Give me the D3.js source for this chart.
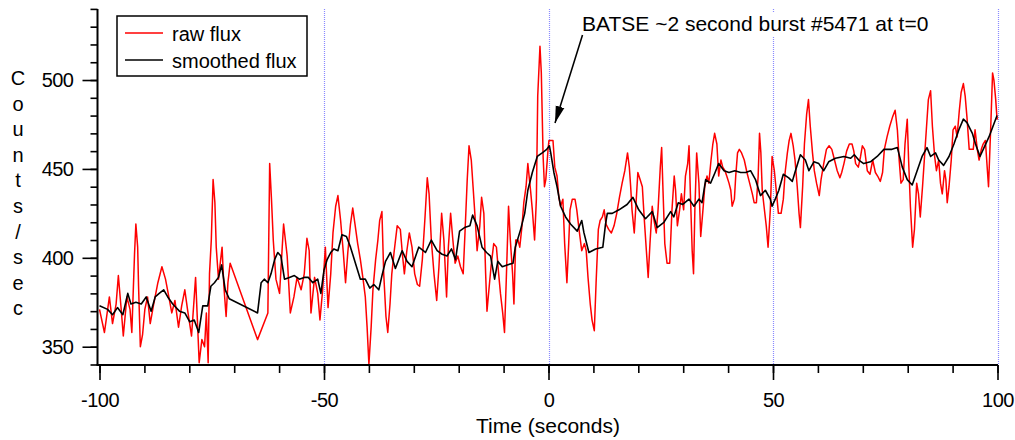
<!DOCTYPE html>
<html>
<head>
<meta charset="utf-8">
<script src="https://cdn.jsdelivr.net/npm/d3@7/dist/d3.min.js"></script>
<style>
  body { margin: 0; background: #fff; }
  svg text { font-family: "Liberation Sans", Arial, sans-serif; fill: #000; }
</style>
</head>
<body>
<svg id="mysvg" width="1015" height="440"></svg>
<script>
// [time (s), counts/sec]
const rawFlux = [
  [-100.0,371],[-98.9,358],[-97.8,378],[-97.1,363],[-96.3,374],[-95.8,390],[-95.1,369],[-94.7,356],[-93.9,378],[-93.2,371],
  [-92.8,358],[-92.2,402],[-91.9,419],[-91.5,406],[-91.3,384],[-90.9,350],[-90.4,357],[-89.9,371],[-89.3,378],[-88.7,363],
  [-88.0,373],[-87.0,386],[-86.1,395],[-85.3,388],[-84.7,380],[-83.9,369],[-83.2,376],[-82.4,361],[-81.7,373],[-81.0,382],
  [-80.4,371],[-79.8,361],[-79.5,356],[-78.9,378],[-78.6,389],[-78.2,365],[-77.8,341],[-77.2,354],[-76.6,350],[-76.2,369],
  [-75.8,341],[-75.5,391],[-75.1,410],[-74.7,444],[-74.3,431],[-74.0,406],[-73.5,388],[-73.2,395],[-72.7,406],[-72.3,384],
  [-71.8,367],[-71.4,386],[-70.9,397],[-64.8,354],[-62.5,369],[-62.1,453],[-61.7,433],[-61.3,410],[-60.7,388],[-59.9,380],
  [-59.0,419],[-58.2,401],[-57.5,369],[-56.7,378],[-56.0,389],[-55.1,382],[-54.4,391],[-53.8,411],[-53.3,404],[-52.9,369],
  [-52.1,389],[-51.4,380],[-50.9,365],[-50.3,382],[-49.7,406],[-49.1,372],[-48.5,391],[-48.0,414],[-47.4,429],[-46.9,435],
  [-46.3,421],[-45.7,403],[-45.2,386],[-44.7,403],[-44.1,419],[-43.6,428],[-43.1,419],[-42.5,408],[-41.9,399],[-41.3,388],
  [-40.8,378],[-40.4,361],[-40.0,340],[-39.5,361],[-39.1,382],[-38.5,399],[-38.0,410],[-37.6,421],[-37.1,426],[-36.7,391],
  [-36.2,367],[-35.8,358],[-35.3,374],[-34.9,391],[-34.4,403],[-33.7,418],[-33.0,416],[-32.5,401],[-32.1,391],[-31.6,403],
  [-31.0,414],[-30.4,406],[-29.8,391],[-29.2,385],[-28.7,384],[-28.1,399],[-27.5,423],[-27.0,445],[-26.6,436],[-26.1,410],
  [-25.5,391],[-24.9,376],[-24.4,395],[-23.8,425],[-23.3,410],[-22.7,378],[-22.3,406],[-21.8,425],[-21.3,410],[-20.8,397],
  [-20.2,401],[-19.6,395],[-19.0,391],[-18.6,414],[-18.1,444],[-17.7,463],[-17.2,455],[-16.8,440],[-16.3,421],[-15.9,404],
  [-15.3,418],[-14.9,434],[-14.4,425],[-14.0,391],[-13.7,370],[-13.2,384],[-12.8,395],[-12.2,408],[-11.6,406],[-11.1,391],
  [-10.7,380],[-10.2,369],[-9.8,358],[-9.4,388],[-8.9,429],[-8.5,410],[-8.0,391],[-7.7,374],[-7.3,410],[-6.8,410],
  [-6.4,406],[-5.9,418],[-5.5,431],[-5.0,440],[-4.6,453],[-4.0,438],[-3.6,427],[-3.1,410],[-2.7,433],[-2.4,491],
  [-1.9,519],[-1.6,504],[-1.2,457],[-0.9,440],[-0.6,444],[-0.1,461],[0.1,466],[1.0,466],[1.4,451],[1.9,446],
  [2.3,434],[2.7,429],[3.2,433],[3.6,408],[4.1,386],[4.5,408],[4.8,427],[5.3,433],[5.9,433],[6.3,427],
  [6.8,416],[7.4,404],[8.0,408],[8.4,404],[8.8,389],[9.3,374],[9.7,365],[10.2,359],[10.6,386],[11.1,416],
  [11.5,421],[12.0,423],[12.4,427],[12.8,419],[13.4,416],[14.0,414],[14.6,418],[15.2,425],[15.8,434],[16.4,442],
  [17.0,449],[17.6,459],[18.0,451],[18.3,440],[18.6,427],[19.1,414],[19.5,431],[19.9,448],[20.4,444],[20.9,440],
  [21.3,423],[21.8,404],[22.2,389],[22.6,408],[23.1,429],[23.5,421],[24.0,414],[24.4,427],[24.9,451],[25.2,462],
  [25.5,438],[25.9,408],[26.4,397],[27.0,397],[27.5,427],[28.0,446],[28.3,438],[28.7,418],[29.2,427],[29.6,436],
  [30.1,427],[30.5,446],[31.0,453],[31.3,463],[31.6,436],[32.0,404],[32.3,391],[32.6,427],[33.0,459],[33.5,442],
  [33.9,412],[34.4,427],[34.8,440],[35.3,446],[35.7,442],[36.2,455],[36.6,464],[37.0,470],[37.5,464],[37.9,446],
  [38.4,455],[38.8,451],[39.3,449],[39.7,446],[40.2,442],[40.6,438],[40.9,429],[41.4,433],[41.7,446],[42.1,459],
  [42.5,461],[43.0,459],[43.6,455],[44.2,448],[44.8,442],[45.4,436],[45.8,431],[46.3,431],[46.7,446],[47.0,470],
  [47.3,459],[47.6,438],[48.0,429],[48.5,418],[48.9,406],[49.4,427],[49.8,457],[50.3,449],[50.8,436],[51.2,425],
  [51.8,425],[52.3,433],[52.7,448],[53.2,459],[53.6,466],[54.0,470],[54.5,463],[54.9,455],[55.4,440],[55.8,425],
  [56.1,417],[56.6,440],[57.0,464],[57.5,481],[57.9,489],[58.3,474],[58.8,459],[59.2,449],[59.7,442],[60.3,435],
  [60.7,444],[61.3,453],[61.9,461],[62.5,463],[63.1,461],[63.7,455],[64.3,449],[64.9,445],[65.3,448],[65.8,453],
  [66.4,460],[67.0,464],[67.6,464],[68.0,460],[68.4,453],[69.0,451],[69.5,457],[69.9,463],[70.4,461],[71.0,449],
  [71.6,447],[72.2,455],[72.8,448],[73.3,446],[73.9,443],[74.4,448],[74.8,461],[75.4,468],[76.0,474],[76.6,479],
  [77.2,483],[77.7,472],[78.1,455],[78.5,442],[79.0,444],[79.4,464],[79.9,478],[80.2,455],[80.6,429],[81.1,406],
  [81.5,416],[82.0,442],[82.4,436],[82.8,423],[83.3,440],[83.7,455],[84.2,474],[84.6,489],[85.1,494],[85.5,474],
  [86.0,457],[86.4,449],[86.9,455],[87.3,442],[87.7,436],[88.2,449],[88.5,444],[88.8,431],[89.2,440],[89.7,455],
  [90.1,472],[90.6,474],[91.0,468],[91.5,483],[91.9,493],[92.4,498],[92.8,491],[93.2,479],[93.7,461],[94.1,461],
  [94.6,461],[95.0,472],[95.5,461],[95.9,455],[96.4,461],[96.8,464],[97.3,466],[97.7,451],[98.0,440],[98.5,474],
  [98.9,504],[99.2,500],[99.6,489],[99.9,478],[100.0,479]
];

const smoothedFlux = [
  [-100.0,373],[-98.2,371],[-97.1,368],[-96.0,372],[-94.8,368],[-93.7,380],[-93.0,374],[-91.9,375],[-90.7,374],[-89.6,378],
  [-88.5,370],[-87.6,378],[-86.7,380],[-85.7,382],[-84.8,378],[-83.7,374],[-82.2,370],[-81.0,369],[-79.9,364],[-78.9,365],
  [-77.9,358],[-77.0,373],[-75.9,373],[-75.2,384],[-74.4,386],[-73.5,389],[-72.8,396],[-72.0,382],[-71.1,377],[-64.8,369],
  [-64.0,386],[-63.3,388],[-62.5,386],[-61.8,391],[-61.0,399],[-60.3,403],[-59.6,401],[-58.8,388],[-57.7,389],[-56.6,390],
  [-55.5,388],[-54.4,389],[-53.5,389],[-52.5,386],[-51.4,388],[-50.7,380],[-50.0,393],[-49.3,399],[-48.5,403],[-47.8,405],
  [-46.9,404],[-46.0,413],[-45.0,412],[-44.1,406],[-43.0,397],[-41.9,388],[-40.8,388],[-39.8,383],[-38.9,385],[-37.8,382],
  [-37.0,391],[-36.3,398],[-35.2,403],[-34.1,394],[-32.6,404],[-31.5,398],[-30.4,395],[-28.9,406],[-27.4,403],[-26.1,410],
  [-24.8,404],[-23.7,402],[-22.6,401],[-21.6,405],[-20.7,399],[-19.8,415],[-18.7,417],[-17.5,418],[-16.9,424],[-15.9,418],
  [-14.8,406],[-13.8,403],[-12.9,401],[-12.0,388],[-11.3,398],[-10.3,395],[-9.2,396],[-7.9,397],[-7.4,406],[-6.2,416],
  [-5.3,425],[-4.6,438],[-3.6,448],[-2.5,457],[-1.4,459],[-0.4,461],[0.2,463],[0.5,459],[1.2,448],[1.9,440],
  [2.7,429],[3.8,423],[4.9,419],[6.4,415],[7.4,421],[7.9,414],[9.0,403],[10.5,405],[12.1,406],[12.7,419],
  [13.1,425],[14.2,425],[15.7,427],[17.5,430],[18.8,434],[20.1,427],[21.6,422],[23.1,426],[24.2,417],[25.7,420],
  [27.2,426],[27.9,423],[28.9,431],[29.9,430],[31.3,433],[32.4,429],[33.5,433],[34.2,431],[35.0,444],[36.1,442],
  [37.1,448],[37.9,453],[39.1,449],[40.2,448],[41.5,449],[42.8,448],[43.9,448],[45.0,449],[46.1,444],[47.2,435],
  [48.3,438],[49.4,433],[49.8,429],[50.5,433],[51.3,438],[52.3,447],[53.5,445],[54.3,443],[55.0,449],[56.1,458],
  [57.2,455],[58.0,449],[59.1,454],[60.2,453],[61.3,449],[62.4,454],[63.9,456],[65.8,457],[67.3,456],[68.1,458],
  [69.1,455],[70.2,453],[71.7,454],[73.2,457],[74.7,461],[76.5,461],[77.7,462],[78.8,451],[79.9,444],[81.0,441],
  [82.1,449],[83.2,457],[84.3,462],[85.1,457],[86.2,459],[86.9,455],[88.0,452],[89.2,457],[90.3,464],[91.4,472],
  [92.4,478],[93.2,476],[94.4,470],[95.1,464],[96.1,457],[97.0,462],[98.1,468],[99.0,474],[99.9,480]
];

const gridTimes = [-50, 0, 50, 100];
const xMajor = [-100, -50, 0, 50, 100];
const xMinor = d3.range(-100, 101, 10);
const yMajor = [350, 400, 450, 500];
const yMinor = d3.range(340, 541, 10);
const legendItems = [
  { label: "raw flux", color: "#ff0000" },
  { label: "smoothed flux", color: "#000000" }
];
const yLabel = "Counts/sec";
const xLabel = "Time (seconds)";
const note = "BATSE ~2 second burst #5471 at t=0";

const svg = d3.select("#mysvg");

const x_Scale = d3.scaleLinear().domain([-100, 100]).range([99.5, 997.5]);
const y_Scale = d3.scaleLinear().domain([340, 540]).range([364.5, 8.9]);
const x0 = 97.5, yBase = 365;

// dotted guides
svg.selectAll(".grid").data(gridTimes).join("line").attr("class", "grid")
  .attr("x1", d => Math.round(x_Scale(d)) + 0.5).attr("x2", d => Math.round(x_Scale(d)) + 0.5)
  .attr("y1", 9).attr("y2", yBase)
  .attr("stroke", "#8a8aff").attr("stroke-width", 1.2).attr("stroke-dasharray", "1,1");

const line = d3.line().x(d => x_Scale(d[0])).y(d => y_Scale(d[1]));

svg.append("path").datum(rawFlux).attr("d", line)
  .attr("fill", "none").attr("stroke", "#ff0000").attr("stroke-width", 1.5).attr("stroke-linejoin", "round");
svg.append("path").datum(smoothedFlux).attr("d", line)
  .attr("fill", "none").attr("stroke", "#000").attr("stroke-width", 1.6).attr("stroke-linejoin", "round");

// axes
const styleAxis = (g) => {
  g.select(".domain").remove();
  g.selectAll("line").attr("stroke", "#000").attr("stroke-width", 1.6);
  g.selectAll("text").attr("font-size", null).attr("font-family", null)
    .style("font-size", "20px").style("letter-spacing", "-0.5px");
};
const plain = d => String(d);

svg.append("g").attr("transform", `translate(0,${yBase})`)
  .call(d3.axisBottom(x_Scale).tickValues(xMinor).tickSize(8).tickFormat("")).call(styleAxis);
svg.append("g").attr("transform", `translate(0,${yBase})`)
  .call(d3.axisBottom(x_Scale).tickValues(xMajor).tickSize(15).tickPadding(13).tickFormat(plain)).call(styleAxis);
svg.append("g").attr("transform", `translate(${x0},0)`)
  .call(d3.axisLeft(y_Scale).tickValues(yMinor).tickSize(7).tickFormat("")).call(styleAxis);
svg.append("g").attr("transform", `translate(${x0},0)`)
  .call(d3.axisLeft(y_Scale).tickValues(yMajor).tickSize(15).tickPadding(9).tickFormat(plain)).call(styleAxis);

svg.append("line").attr("x1", x0).attr("x2", x0).attr("y1", 9).attr("y2", yBase)
  .attr("stroke", "#000").attr("stroke-width", 2);
svg.append("line").attr("x1", x0 - 1).attr("x2", 998).attr("y1", yBase).attr("y2", yBase)
  .attr("stroke", "#000").attr("stroke-width", 2);

// axis titles
svg.append("text").attr("x", 548).attr("y", 433).attr("text-anchor", "middle")
  .style("font-size", "21px").text(xLabel);

svg.selectAll(".ylab").data(yLabel.split("")).join("text").attr("class", "ylab")
  .attr("x", 18).attr("y", (d, i) => 85 + i * 25.6).attr("text-anchor", "middle")
  .style("font-size", "20px").text(d => d);

// legend
svg.append("rect").attr("x", 117).attr("y", 16).attr("width", 190).attr("height", 60)
  .attr("fill", "#fff").attr("stroke", "#000").attr("stroke-width", 1.5);
const legend = svg.selectAll(".legend").data(legendItems).join("g").attr("class", "legend")
  .attr("transform", (_, i) => `translate(0,${33 + i * 27})`);
legend.append("line").attr("x1", 125).attr("x2", 163)
  .attr("stroke", d => d.color).attr("stroke-width", 1.5);
legend.append("text").attr("x", 172).attr("y", 8).style("font-size", "20px").text(d => d.label);

// annotation with a white backing so the guide at t=50 stops under it
const noteText = svg.append("text").attr("x", 582).attr("y", 31).style("font-size", "21px").text(note);
const bb = noteText.node().getBBox();
svg.insert("rect", () => noteText.node())
  .attr("x", bb.x - 2).attr("y", bb.y).attr("width", bb.width + 4).attr("height", bb.height + 2)
  .attr("fill", "#fff");

svg.append("defs").append("marker").attr("id", "arrow")
  .attr("viewBox", "0 -5 17 10").attr("refX", 17).attr("refY", 0)
  .attr("markerWidth", 17).attr("markerHeight", 10).attr("markerUnits", "userSpaceOnUse")
  .attr("orient", "auto")
  .append("path").attr("d", "M0,-4.5L17,0L0,4.5Z").attr("fill", "#000");

svg.append("line").attr("x1", 582.5).attr("y1", 35).attr("x2", 555).attr("y2", 123)
  .attr("stroke", "#000").attr("stroke-width", 1.6).attr("marker-end", "url(#arrow)");
</script>
</body>
</html>
